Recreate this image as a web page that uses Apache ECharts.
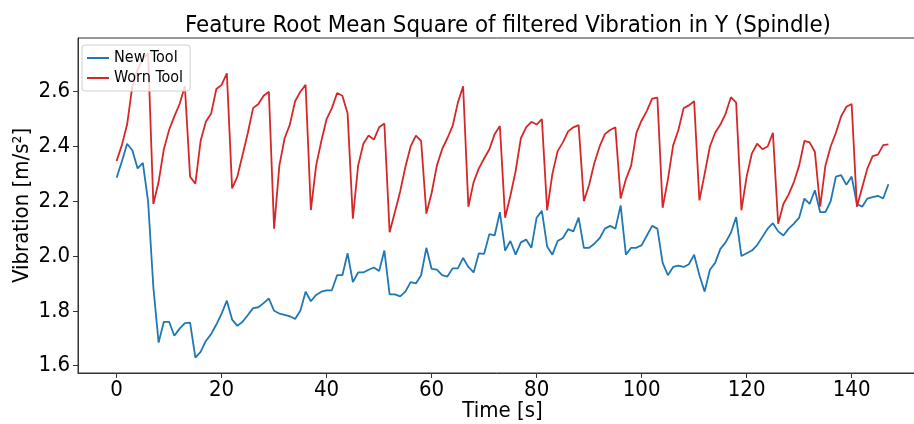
<!DOCTYPE html>
<html>
<head>
<meta charset="utf-8">
<style>
  html, body { margin: 0; padding: 0; background: #fff; }
  #chart { width: 914px; height: 424px; }
</style>
<script src="https://cdn.jsdelivr.net/npm/echarts@6/dist/echarts.min.js"></script>
</head>
<body>
<div id="chart"></div>
<script>
// Sampling step of the RMS feature, in seconds
const sampleStep = 1;

// RMS of filtered spindle vibration (Y), new tool
const newTool = [
  2.286, 2.345, 2.41, 2.386, 2.32, 2.34, 2.20, 1.886, 1.684, 1.76,
  1.76, 1.709, 1.735, 1.755, 1.757, 1.629, 1.65, 1.69, 1.715, 1.75,
  1.79, 1.837, 1.768, 1.745, 1.76, 1.785, 1.81, 1.813, 1.828, 1.845,
  1.80, 1.79, 1.785, 1.78, 1.77, 1.80, 1.87, 1.835, 1.858, 1.87,
  1.875, 1.875, 1.93, 1.93, 2.01, 1.905, 1.94, 1.94, 1.95, 1.958,
  1.945, 2.02, 1.86, 1.86, 1.853, 1.87, 1.905, 1.90, 1.93, 2.03,
  1.953, 1.95, 1.93, 1.925, 1.955, 1.955, 1.993, 1.96, 1.94, 2.01,
  2.008, 2.08, 2.075, 2.16, 2.02, 2.055, 2.005, 2.05, 2.06, 2.03,
  2.14, 2.165, 2.035, 2.005, 2.055, 2.066, 2.098, 2.09, 2.14, 2.03,
  2.03, 2.045, 2.065, 2.10, 2.11, 2.10, 2.185, 2.005, 2.03, 2.03,
  2.04, 2.075, 2.11, 2.10, 1.975, 1.93, 1.96, 1.965, 1.96, 1.97,
  2.005, 1.93, 1.87, 1.95, 1.975, 2.026, 2.05, 2.085, 2.142, 2.00,
  2.01, 2.02, 2.04, 2.07, 2.10, 2.12, 2.09, 2.075, 2.10, 2.118,
  2.14, 2.21, 2.19, 2.24, 2.16, 2.16, 2.20, 2.29, 2.295, 2.26,
  2.29, 2.19, 2.18, 2.21, 2.215, 2.22, 2.21, 2.262
];

// RMS of filtered spindle vibration (Y), worn tool
const wornTool = [
  2.347, 2.405, 2.48, 2.62, 2.68, 2.72, 2.74, 2.19, 2.27, 2.39,
  2.46, 2.51, 2.555, 2.62, 2.29, 2.264, 2.42, 2.49, 2.52, 2.61,
  2.625, 2.667, 2.247, 2.29, 2.37, 2.45, 2.54, 2.555, 2.585, 2.60,
  2.10, 2.33, 2.43, 2.48, 2.565, 2.60, 2.625, 2.168, 2.33, 2.42,
  2.50, 2.54, 2.595, 2.585, 2.52, 2.136, 2.33, 2.41, 2.44, 2.425,
  2.47, 2.484, 2.087, 2.16, 2.235, 2.325, 2.40, 2.44, 2.42, 2.155,
  2.23, 2.33, 2.39, 2.43, 2.475, 2.56, 2.62, 2.18, 2.27, 2.32,
  2.356, 2.39, 2.445, 2.475, 2.14, 2.22, 2.31, 2.43, 2.47, 2.49,
  2.48, 2.50, 2.167, 2.30, 2.383, 2.415, 2.455, 2.47, 2.478, 2.20,
  2.26, 2.34, 2.40, 2.445, 2.46, 2.47, 2.21, 2.28, 2.33, 2.45,
  2.495, 2.53, 2.575, 2.578, 2.176, 2.28, 2.404, 2.46, 2.54, 2.55,
  2.565, 2.203, 2.30, 2.40, 2.45, 2.48, 2.52, 2.58, 2.56, 2.167,
  2.29, 2.375, 2.41, 2.39, 2.40, 2.45, 2.118, 2.19, 2.225, 2.27,
  2.33, 2.42, 2.415, 2.38, 2.18, 2.33, 2.40, 2.45, 2.51, 2.545,
  2.555, 2.18, 2.25, 2.32, 2.365, 2.37, 2.405, 2.408
];

// Tick positions
const xTicks = [0, 20, 40, 60, 80, 100, 120, 140];
const yTicks = [1.6, 1.8, 2.0, 2.2, 2.4, 2.6];

const seriesNames = ['New Tool', 'Worn Tool'];
const seriesColors = ['#1f77b4', '#d62728'];

const toPairs = arr => arr.map((v, i) => [i * sampleStep, v]);

const font = '"DejaVu Sans Condensed", "DejaVu Sans", sans-serif';
const chart = echarts.init(document.getElementById('chart'), null, { renderer: 'canvas' });

chart.setOption({
  animation: false,
  backgroundColor: '#fff',
  title: {
    text: 'Feature Root Mean Square of filtered Vibration in Y (Spindle)',
    left: 503,
    textAlign: 'center',
    top: 9,
    textStyle: { fontFamily: font, fontSize: 23.8, fontWeight: 'normal', color: '#000' }
  },
  legend: {
    data: seriesNames,
    orient: 'vertical',
    left: 82,
    top: 45,
    itemWidth: 22,
    itemHeight: 2,
    itemGap: 4,
    icon: 'rect',
    padding: [5, 7, 5, 5],
    borderColor: '#d0d0d0',
    borderWidth: 1,
    borderRadius: 3,
    backgroundColor: 'rgba(255,255,255,0.8)',
    textStyle: { fontFamily: font, fontSize: 16, color: '#000' }
  },
  grid: {
    left: 78, right: -13, top: 38, bottom: 51,
    outerBoundsMode: 'none',
    containLabel: false,
    show: true, borderColor: '#333', borderWidth: 1
  },
  xAxis: {
    type: 'value',
    min: -7.35,
    max: 154.35,
    name: 'Time [s]',
    nameLocation: 'middle',
    nameGap: 27,
    nameMoveOverlap: false,
    nameTextStyle: { fontFamily: font, fontSize: 22, color: '#000' },
    axisLine: { show: true, onZero: false, lineStyle: { color: '#333' } },
    axisTick: { show: true, length: 5, lineStyle: { color: '#333' }, customValues: xTicks },
    axisLabel: { fontFamily: font, fontSize: 22, color: '#000', margin: 6, customValues: xTicks,
                 formatter: v => String(v) },
    splitLine: { show: false }
  },
  yAxis: {
    type: 'value',
    min: 1.573,
    max: 2.796,
    name: 'Vibration [m/s²]',
    nameLocation: 'middle',
    nameRotate: 90,
    nameGap: 45,
    nameMoveOverlap: false,
    nameTextStyle: { fontFamily: font, fontSize: 22, color: '#000' },
    axisLine: { show: true, onZero: false, lineStyle: { color: '#333' } },
    axisTick: { show: true, length: 5, lineStyle: { color: '#333' }, customValues: yTicks },
    axisLabel: { fontFamily: font, fontSize: 22, color: '#000', margin: 8, customValues: yTicks,
                 formatter: v => v.toFixed(1) },
    splitLine: { show: false }
  },
  series: [
    {
      name: seriesNames[0],
      type: 'line',
      data: toPairs(newTool),
      showSymbol: false,
      color: seriesColors[0],
      lineStyle: { width: 1.8, color: seriesColors[0] },
      z: 2
    },
    {
      name: seriesNames[1],
      type: 'line',
      data: toPairs(wornTool),
      showSymbol: false,
      color: seriesColors[1],
      lineStyle: { width: 1.8, color: seriesColors[1] },
      z: 3
    }
  ]
});
</script>
</body>
</html>
